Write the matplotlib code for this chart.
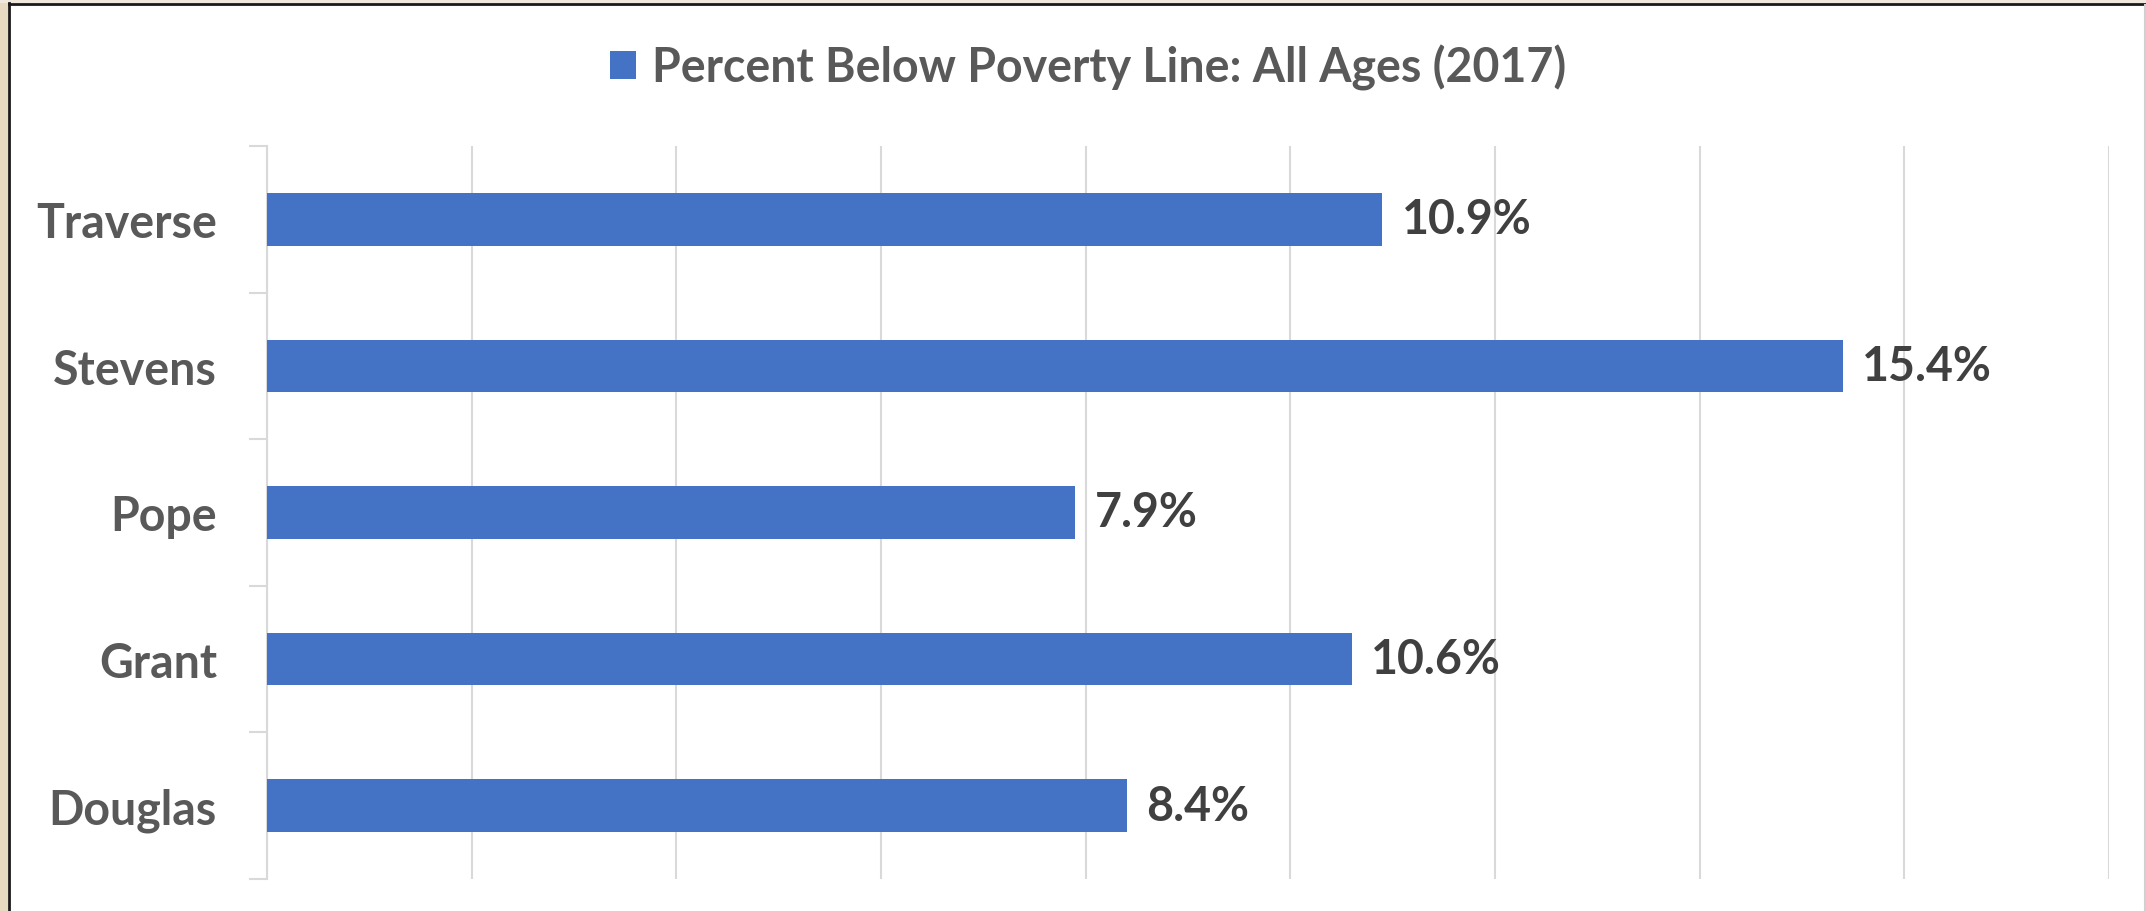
import matplotlib
matplotlib.use("Agg")
import matplotlib.pyplot as plt
from matplotlib.patches import Rectangle, Patch
from matplotlib.lines import Line2D

# ----------------------------------------------------------
# DATOS
# ----------------------------------------------------------
condados = ["Douglas", "Grant", "Pope", "Stevens", "Traverse"]
pobreza_pct = [8.4, 10.6, 7.9, 15.4, 10.9]
titulo_serie = "Percent Below Poverty Line: All Ages (2017)"

COLOR_BARRA = "#4472C4"
COLOR_TEXTO = "#595959"
COLOR_VALOR = "#404040"
COLOR_GRID = "#D9D9D9"
FUENTE = "Lato"
TAM = 33.5

W, H = 2146, 912
figura = plt.figure(figsize=(W / 100, H / 100), dpi=100)
figura.patch.set_facecolor("white")

eje = figura.add_axes([267 / W, 1 - 880 / H, (2109 - 267) / W, (880 - 147) / H])

posiciones = range(len(condados))
eje.barh(posiciones, pobreza_pct, height=0.36, color=COLOR_BARRA, zorder=3)

# etiquetas de valor al final de cada barra
for y, valor in zip(posiciones, pobreza_pct):
    eje.annotate(f"{valor:.1f}%", xy=(valor, y), xytext=(14, 0),
                 textcoords="offset points", va="center", ha="left",
                 fontsize=TAM, fontweight="bold", color=COLOR_VALOR,
                 family=FUENTE)

eje.set_xlim(0, 18)
eje.set_ylim(-0.5, len(condados) - 0.5)
eje.set_xticks(range(0, 19, 2))
eje.tick_params(axis="x", length=0, labelbottom=False)
eje.grid(axis="x", color=COLOR_GRID, linewidth=1.5, zorder=0)

eje.set_yticks(list(posiciones))
eje.set_yticklabels(condados, fontsize=TAM, fontweight="bold",
                    color=COLOR_TEXTO, family=FUENTE)
eje.tick_params(axis="y", which="major", length=0, pad=36)
eje.set_yticks([i - 0.5 for i in range(len(condados) + 1)], minor=True)
eje.tick_params(axis="y", which="minor", length=13, width=1.5,
                color=COLOR_GRID, direction="out")

for lado in ["top", "right", "bottom"]:
    eje.spines[lado].set_visible(False)
eje.spines["left"].set_color(COLOR_GRID)
eje.spines["left"].set_linewidth(1.5)

# leyenda arriba
manejador = Patch(facecolor=COLOR_BARRA, edgecolor="none")
leyenda = figura.legend([manejador], [titulo_serie], loc="center",
                        bbox_to_anchor=(0.507, 1 - 68 / H), frameon=False,
                        handlelength=0.55, handleheight=0.55, handletextpad=0.35,
                        prop={"family": FUENTE, "weight": "bold", "size": TAM})
for texto in leyenda.get_texts():
    texto.set_color(COLOR_TEXTO)

# ----------------------------------------------------------
# MARCO (borde beige y linea negra como en la captura)
# ----------------------------------------------------------
figura.add_artist(Rectangle((0, 0), 8 / W, 1, transform=figura.transFigure,
                            facecolor="#E8DAC2", edgecolor="none"))
figura.add_artist(Rectangle((0, 1 - 4 / H), 1, 4 / H, transform=figura.transFigure,
                            facecolor="#F0E8DC", edgecolor="none"))
figura.add_artist(Line2D([9 / W, 9 / W], [0, 1 - 4 / H], transform=figura.transFigure,
                         color="#1A1A1A", linewidth=2))
figura.add_artist(Line2D([9 / W, 1], [1 - 5 / H, 1 - 5 / H], transform=figura.transFigure,
                         color="#1A1A1A", linewidth=2))
figura.add_artist(Line2D([1 - 1.5 / W, 1 - 1.5 / W], [0, 1 - 6 / H], transform=figura.transFigure,
                         color="#D0D0D0", linewidth=1.5))

figura.savefig("out.png", dpi=100)
